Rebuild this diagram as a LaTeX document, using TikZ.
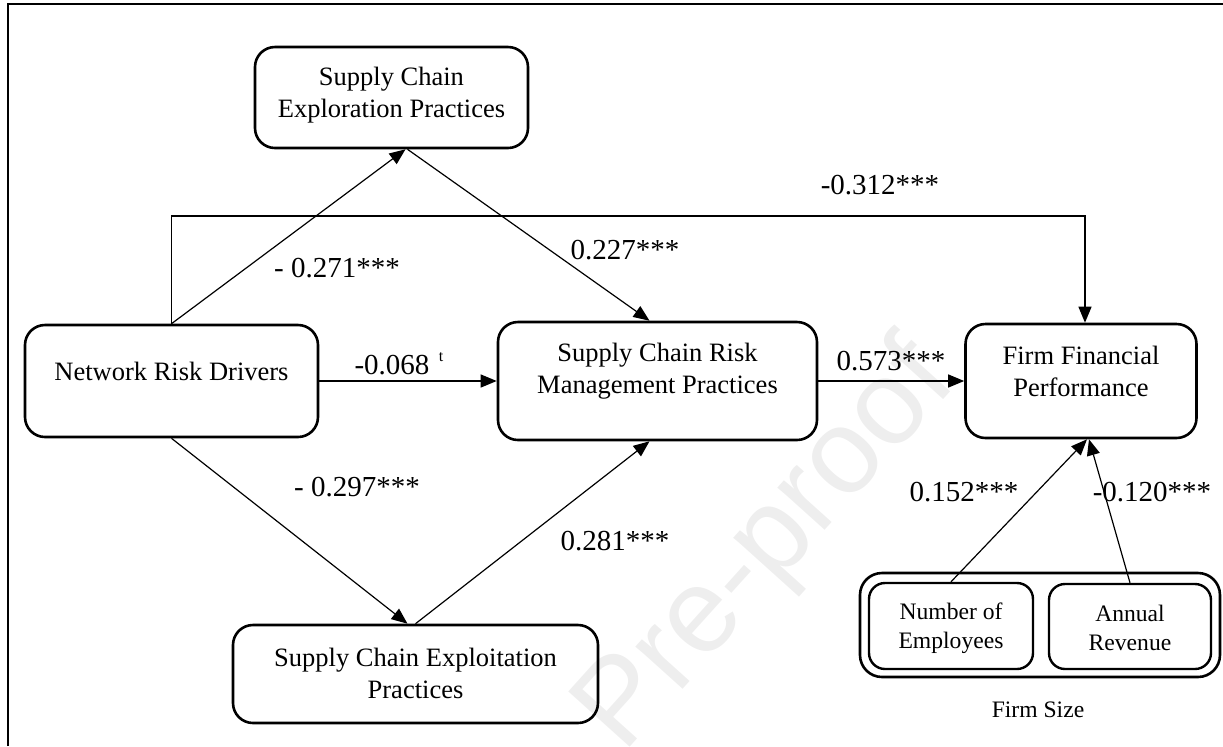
\documentclass[tikz,border=0pt]{standalone}
\usepackage{fontspec}
\setmainfont{Liberation Serif}
\newfontfamily\wmfont{Liberation Sans}
\usetikzlibrary{arrows.meta,calc}
\definecolor{wmgray}{RGB}{238,238,238}
\tikzset{
  box/.style={draw, line width=1.3pt, rounded corners=10pt, inner sep=0pt},
  smallbox/.style={draw, line width=1.2pt, rounded corners=8pt, inner sep=0pt},
  conn/.style={line width=0.6pt, -{Triangle[length=8pt,width=6.5pt]}},
  txt/.style={align=center, inner sep=0pt, font=\fontsize{13.25}{16}\selectfont},
  smalltxt/.style={align=center, inner sep=0pt, font=\fontsize{11.8}{14.5}\selectfont},
  lbl/.style={inner sep=0pt, font=\fontsize{14.5}{17}\selectfont},
  frame/.style={line width=1pt}
}
\begin{document}
\begin{tikzpicture}[x=0.5pt,y=-0.5pt]
\useasboundingbox (0,0) rectangle (1223,746);
% watermark
\node[wmgray, rotate=48, font=\wmfont\fontsize{60}{60}\selectfont] (wm) at (768,548) {Pre-proof};
% frame
\draw[frame] (8,746) -- (8,4) -- (1223,4);
% boxes
\node[box, minimum width=136.5pt, minimum height=50.5pt] (expl) at (391.5,97.5) {};
\node[txt] (explT) at (391.5,95) {Supply Chain\\Exploration Practices};
\node[box, minimum width=146.5pt, minimum height=56pt] (nrd) at (171.5,381) {};
\node[txt] (nrdT) at (171.5,371) {Network Risk Drivers};
\node[box, minimum width=159.5pt, minimum height=59pt] (scrm) at (657.5,381) {};
\node[txt] (scrmT) at (657.5,371) {Supply Chain Risk\\Management Practices};
\node[box, minimum width=115.5pt, minimum height=57pt] (ffp) at (1081,381) {};
\node[txt] (ffpT) at (1081,371) {Firm Financial\\Performance};
\node[box, minimum width=182.5pt, minimum height=49pt] (explt) at (415.5,674) {};
\node[txt] (expltT) at (415.5,673.5) {Supply Chain Exploitation\\Practices};
\node[box, rounded corners=11pt, minimum width=180pt, minimum height=52pt] (fs) at (1040,625) {};
\node[smallbox, minimum width=82pt, minimum height=43pt] (noe) at (951,626) {};
\node[smalltxt] (noeT) at (951,628) {Number of\\Employees};
\node[smallbox, minimum width=81pt, minimum height=42.5pt] (ar) at (1130,626.5) {};
\node[smalltxt] (arT) at (1130,628) {Annual\\Revenue};
\node[smalltxt] (fsT) at (1038,710) {Firm Size};
% connectors
\draw[conn] (nrd.north) -- ([xshift=7pt]expl.south);
\draw[conn] ([xshift=8pt]expl.south) -- ([xshift=-4pt]scrm.north);
\draw[conn] (nrd.north) |- (1085,216) coordinate (c1) -- (c1 |- ffp.north);
\draw[conn] (nrd.east) -- (scrm.west);
\draw[conn] (scrm.east) -- (ffp.west);
\draw[conn] (nrd.south) -- ([xshift=-4pt]explt.north);
\draw[conn] (explt.north) -- ([xshift=-4pt]scrm.south);
\draw[conn] (noe.north) -- ([xshift=3pt]ffp.south);
\draw[conn] (ar.north) -- ([xshift=4pt]ffp.south);
% labels
\node[lbl] (l1) at (337,268) {- 0.271***};
\node[lbl] (l2) at (625,250) {0.227***};
\node[lbl] (l3) at (880,185) {-0.312***};
\node[lbl] (l4) at (392,365) {-0.068};
\node[inner sep=0pt, font=\fontsize{8}{9}\selectfont] (l4t) at (441,357) {t};
\node[lbl] (l5) at (891,361) {0.573***};
\node[lbl] (l6) at (357,487) {- 0.297***};
\node[lbl] (l7) at (615,541) {0.281***};
\node[lbl] (l8) at (964,492) {0.152***};
\node[lbl] (l9) at (1152,492) {-0.120***};
\end{tikzpicture}
\end{document}
